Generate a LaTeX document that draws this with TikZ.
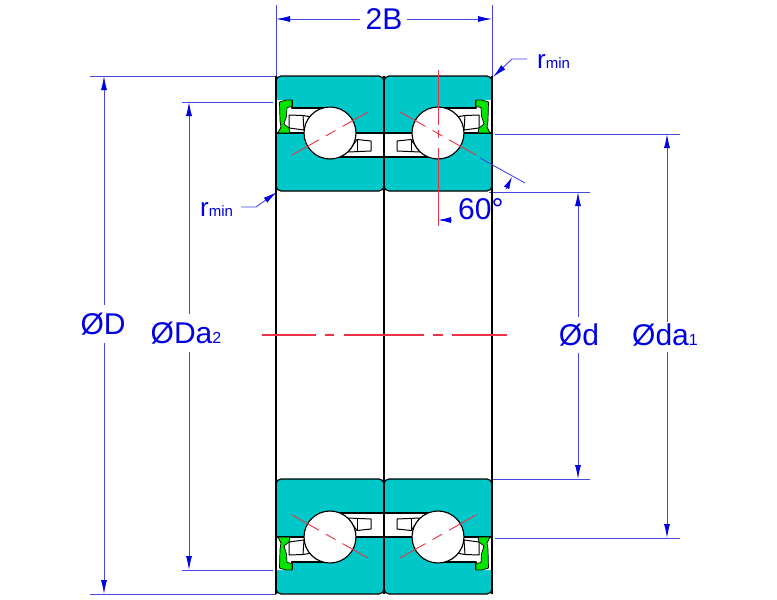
\documentclass[tikz,border=0pt]{standalone}
\usepackage{fontspec}
\setmainfont{Liberation Sans}
\usetikzlibrary{arrows.meta}
\definecolor{ringteal}{RGB}{0,200,200}
\definecolor{sealgreen}{RGB}{0,230,0}
\definecolor{dimblue}{RGB}{70,70,225}
\definecolor{txtblue}{RGB}{0,0,225}
\definecolor{axisred}{RGB}{235,50,70}
\tikzset{
  part/.style={draw=black,line width=1.15pt,line join=round},
  ringpart/.style={part,fill=ringteal,rounded corners=5pt},
  axisline/.style={draw=axisred,line width=0.9pt},
  dimline/.style={draw=dimblue,line width=0.9pt},
  arrowed/.style={dimline,-{Latex[length=14pt,width=6pt,color=txtblue]}},
  dimtext/.style={text=txtblue,font=\fontsize{30}{30}\selectfont,inner sep=0pt,minimum height=38pt},
  notetext/.style={text=txtblue,inner sep=0pt,anchor=base west}
}
\newcommand{\subt}[1]{{\fontsize{16}{16}\selectfont #1}}
\newcommand{\rminlabel}{{\fontsize{26}{26}\selectfont r}{\fontsize{15}{15}\selectfont min}}
\newcommand{\bearingquarter}{%
  \path[ringpart] (276,76) rectangle (384,191);
  \fill[white] (277,100) -- (292,100) -- (292,108) -- (330,108) -- (330,133) -- (384,133)
     -- (384,157) -- (330,157) -- (330,133) -- (277,133) -- cycle;
  \draw[part] (292,100) -- (292,108) -- (330,108);
  \draw[part] (276,133) -- (384,133);
  \draw[part] (330,157) -- (384,157);
  \draw[part] (276,76) -- (276,191);
  \draw[part,line width=1pt,fill=white] (289,115) -- (303,115.5) -- (312,117) -- (312,131) -- (304,130) -- (289,128) -- cycle;
  \draw[part,line width=1pt] (303,115.5) -- (304,130);
  \draw[part,line width=1pt,fill=white] (348,152) -- (357,139.5) -- (371,141) -- (371,151) -- cycle;
  \draw[part,line width=1pt] (357,139.5) -- (357,152);
  \draw[line width=0.7pt,draw=black,fill=sealgreen,line join=round]
     (279.5,102) -- (286,100) -- (292,100) -- (292,106.5) -- (287,107.5) -- (286.5,116) -- (284,124)
     -- (289,128) -- (290,133) -- (278,133) -- (281,127) -- (280,121) -- cycle;
  \draw[part,fill=white] (330,133) circle[radius=26];
  \draw[axisline] (292,155) -- (318.9,139.8) (325.9,135.8) -- (335.5,130.4) (342.5,126.4) -- (368,112);
}
\begin{document}
\begin{tikzpicture}[x=1pt,y=-1pt]
\useasboundingbox (0,0) rectangle (777,600);
\fill[white] (0,0) rectangle (777,600);

% extension lines
\coordinate (ext2Bl) at (276,5);
\coordinate (ext2Br) at (492,5);
\coordinate (ol) at (276,76);
\coordinate (or) at (492,76);
\draw[dimline] (ext2Bl) -- (ol);
\draw[dimline] (ext2Br) -- (or);
\draw[dimline] (90,76) -- (ol);
\draw[dimline] (90,594) -- (276,594);
\draw[dimline] (182,102) -- (273,102);
\draw[dimline] (182,570) -- (273,570);
\draw[dimline] (489,192) -- (590,192);
\draw[dimline] (492,479) -- (590,479);
\draw[dimline] (495,134) -- (680,134);
\draw[dimline] (495,538) -- (680,538);

% bearing quarters
\bearingquarter
\begin{scope}[shift={(768,0)},xscale=-1]\bearingquarter\end{scope}
\begin{scope}[shift={(0,670)},yscale=-1]\bearingquarter\end{scope}
\begin{scope}[shift={(768,670)},xscale=-1,yscale=-1]\bearingquarter\end{scope}

% bore and outer lines
\draw[part] (276,191) -- (276,479);
\draw[part] (384,76) -- (384,594);
\draw[part] (492,191) -- (492,479);

% axis lines
\draw[axisline,line width=1.2pt] (262,335) -- (316,335) (325,335) -- (334,335) (344,335) -- (424,335) (433,335) -- (443,335) (452,335) -- (507,335);
\draw[axisline] (438,70) -- (438,125) (438,130) -- (438,138) (438,148) -- (438,226);

% contact angle
\coordinate (angA) at (480,158);
\coordinate (angB) at (525,183);
\draw[dimline] (angA) -- (angB);
\draw[dimline,-{Latex[length=13pt,width=6pt,color=txtblue]}] (452,220) -- (438,220);
\draw[dimline,-{Latex[length=12pt,width=6pt,color=txtblue]}] (506,189) -- (512,177);
\node[notetext,font=\fontsize{30}{30}\selectfont] (angle) at (458,219) {60°};

% 2B
\node[dimtext] (lab2B) at (384,19) {2B};
\coordinate (b2l) at (360,19);
\coordinate (b2r) at (407,19);
\draw[arrowed] (b2l) -- (276,19);
\draw[arrowed] (b2r) -- (492,19);

% dimension OD
\node[dimtext] (labD) at (103,324) {ØD};
\draw[arrowed] (104,305) -- (104,76);
\draw[arrowed] (104,343) -- (104,594);

% dimension ODa2
\node[dimtext] (labDa) at (186,333) {ØDa\subt{2}};
\draw[arrowed] (189,314) -- (189,102);
\draw[arrowed] (189,352) -- (189,570);

% dimension Od
\node[dimtext] (labd) at (579,335) {Ød};
\draw[arrowed] (578,317) -- (578,192);
\draw[arrowed] (578,353) -- (578,479);

% dimension Oda1
\node[dimtext] (labda) at (665,335) {Øda\subt{1}};
\draw[arrowed] (667,322) -- (667,134);
\draw[arrowed] (667,352) -- (667,538);

% radius notes
\node[notetext] (rtop) at (537,68) {\rminlabel};
\coordinate (ktop) at (512,59);
\draw[arrowed] (527,59) -- (ktop) -- (493,77);
\node[notetext] (rbot) at (200,216) {\rminlabel};
\coordinate (kbot) at (256,207);
\draw[arrowed] (241,207) -- (kbot) -- (277,192);
\end{tikzpicture}
\end{document}
